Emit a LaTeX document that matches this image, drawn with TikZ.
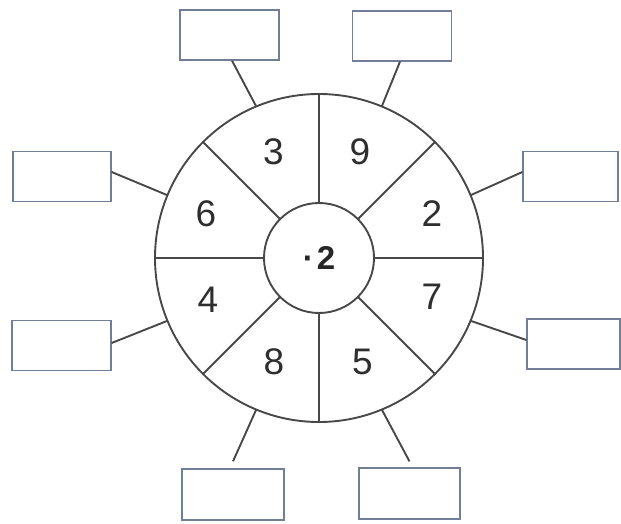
\documentclass[tikz,border=0pt]{standalone}
\usepackage{fontspec}
\setmainfont{Liberation Sans}
\usetikzlibrary{calc}
\definecolor{boxline}{RGB}{112,126,152}
\definecolor{ringline}{RGB}{72,72,72}
\begin{document}
\begin{tikzpicture}[x=1pt,y=1pt,
  ring/.style={draw=ringline,line width=1.9pt},
  answerbox/.style={draw=boxline,line width=1.3pt,minimum width=99pt,minimum height=50pt,inner sep=0pt},
  link/.style={draw=ringline,line width=1.9pt},
  digit/.style={font=\fontsize{37}{40}\selectfont,text=black!82},
]
\useasboundingbox (0,0) rectangle (621,523);
\coordinate (O) at (319,265);
\node[ring,circle,minimum size=328pt,inner sep=0pt] (outer) at (O) {};
\node[ring,circle,minimum size=110pt,inner sep=0pt,font=\fontsize{33}{35}\selectfont\bfseries,text=black!85] (inner) at (O) {·\hspace{3pt}2};
\foreach \a in {0,45,...,315}{
  \draw[ring] ($(O)+(\a:55)$) -- ($(O)+(\a:164)$);
}
% numbers
\node[digit] (n3) at (273.5,371.5) {3};
\node[digit] (n9) at (360,371.5) {9};
\node[digit] (n2) at (432,309) {2};
\node[digit] (n7) at (432,226) {7};
\node[digit] (n5) at (362.5,161) {5};
\node[digit] (n8) at (274,161) {8};
\node[digit] (n4) at (208,223) {4};
\node[digit] (n6) at (206,309) {6};
% boxes
\node[answerbox] (b1) at (229.5,488) {};
\node[answerbox] (b2) at (402,487) {};
\node[answerbox,minimum width=95pt] (b3) at (570.5,346.5) {};
\node[answerbox,minimum width=93pt] (b4) at (573.5,179) {};
\node[answerbox,minimum width=101pt,minimum height=51pt] (b5) at (409.5,29.5) {};
\node[answerbox,minimum width=102pt,minimum height=51pt] (b6) at (233,28.5) {};
\node[answerbox] (b7) at (61.5,177.5) {};
\node[answerbox,minimum width=98pt] (b8) at (62,346.5) {};
% contact points on the ring
\foreach \a/\n in {112.5/1,67.5/2,22.5/3,-22.5/4,-67.5/5,-112.5/6,-157.5/7,157.5/8}{
  \coordinate (c\n) at ($(O)+(\a:164)$);
}
\draw[link] (c1) -- ([xshift=2.5pt]b1.south);
\draw[link] (c2) -- ([xshift=-2pt]b2.south);
\draw[link] (c3) -- ([yshift=4.5pt]b3.west);
\draw[link] (c4) -- ([yshift=4pt]b4.west);
\draw[link] (c5) -- ([yshift=6pt]b5.north);
\draw[link] (c6) -- ([yshift=7pt]b6.north);
\draw[link] (c7) -- ([yshift=2.5pt]b7.east);
\draw[link] (c8) -- ([yshift=4.5pt]b8.east);
\end{tikzpicture}
\end{document}
